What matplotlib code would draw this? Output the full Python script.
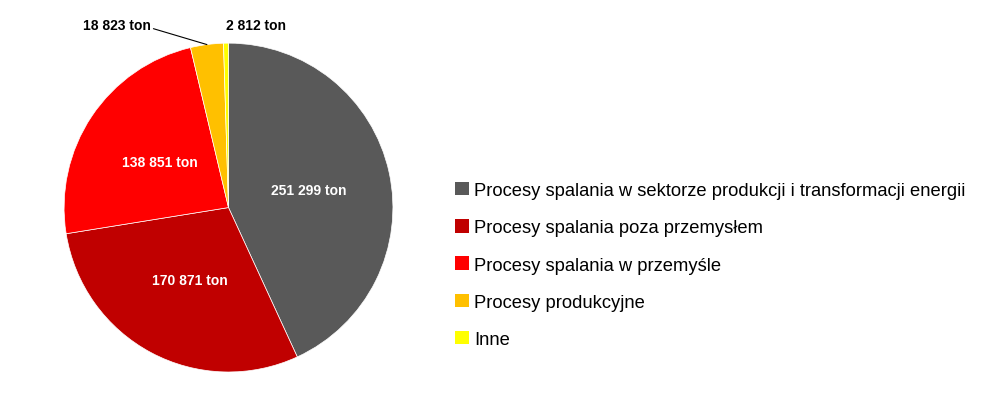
import numpy as np
import matplotlib.pyplot as plt
from matplotlib.patches import Patch

# emisje wg zrodel (tony)
categories = ['Procesy spalania w sektorze produkcji i transformacji energii',
              'Procesy spalania poza przemysłem',
              'Procesy spalania w przemyśle',
              'Procesy produkcyjne',
              'Inne']
values = [251299, 170871, 138851, 18823, 2812]
value_labels = ['251 299 ton', '170 871 ton', '138 851 ton', '18 823 ton', '2 812 ton']
colors = ['#595959', '#C00000', '#FF0000', '#FFC000', '#FFFF00']

plt.rcParams['font.family'] = ['Liberation Sans', 'DejaVu Sans']

fig = plt.figure(figsize=(10, 4.06), dpi=100)
ax = fig.add_axes([0.064, 0.0813, 0.329, 0.810])

wedges, _ = ax.pie(values, colors=colors, startangle=90, counterclock=False,
                   radius=1, wedgeprops=dict(linewidth=0.5, edgecolor='white'))
ax.set_xlim(-1, 1)
ax.set_ylim(-1, 1)
ax.set_aspect('equal')

for i, w in enumerate(wedges):
    mid = np.deg2rad((w.theta1 + w.theta2) / 2)
    if i < 3:
        ax.text(0.5 * np.cos(mid), 0.5 * np.sin(mid), value_labels[i],
                ha='center', va='center', color='white', fontsize=10, fontweight='bold')

# small slices: labels outside
w = wedges[3]
mid = np.deg2rad((w.theta1 + w.theta2) / 2)
ax.annotate(value_labels[3], xy=(np.cos(mid), np.sin(mid)), xytext=(-0.68, 1.11),
            ha='center', va='center', fontsize=10, fontweight='bold', color='black',
            annotation_clip=False,
            arrowprops=dict(arrowstyle='-', color='black', lw=0.8,
                            shrinkA=0, shrinkB=0, relpos=(1.0, 0.3)))
ax.text(0.17, 1.11, value_labels[4], ha='center', va='center', fontsize=10,
        fontweight='bold', color='black')

handles = [Patch(facecolor=c, edgecolor='none') for c in colors]
fig.legend(handles, categories, loc='upper left', bbox_to_anchor=(0.446, 0.572),
           frameon=False, fontsize=13.2, handlelength=0.75, handleheight=0.75,
           handletextpad=0.3, labelspacing=1.1, borderpad=0)

fig.savefig('out.png', dpi=100)
